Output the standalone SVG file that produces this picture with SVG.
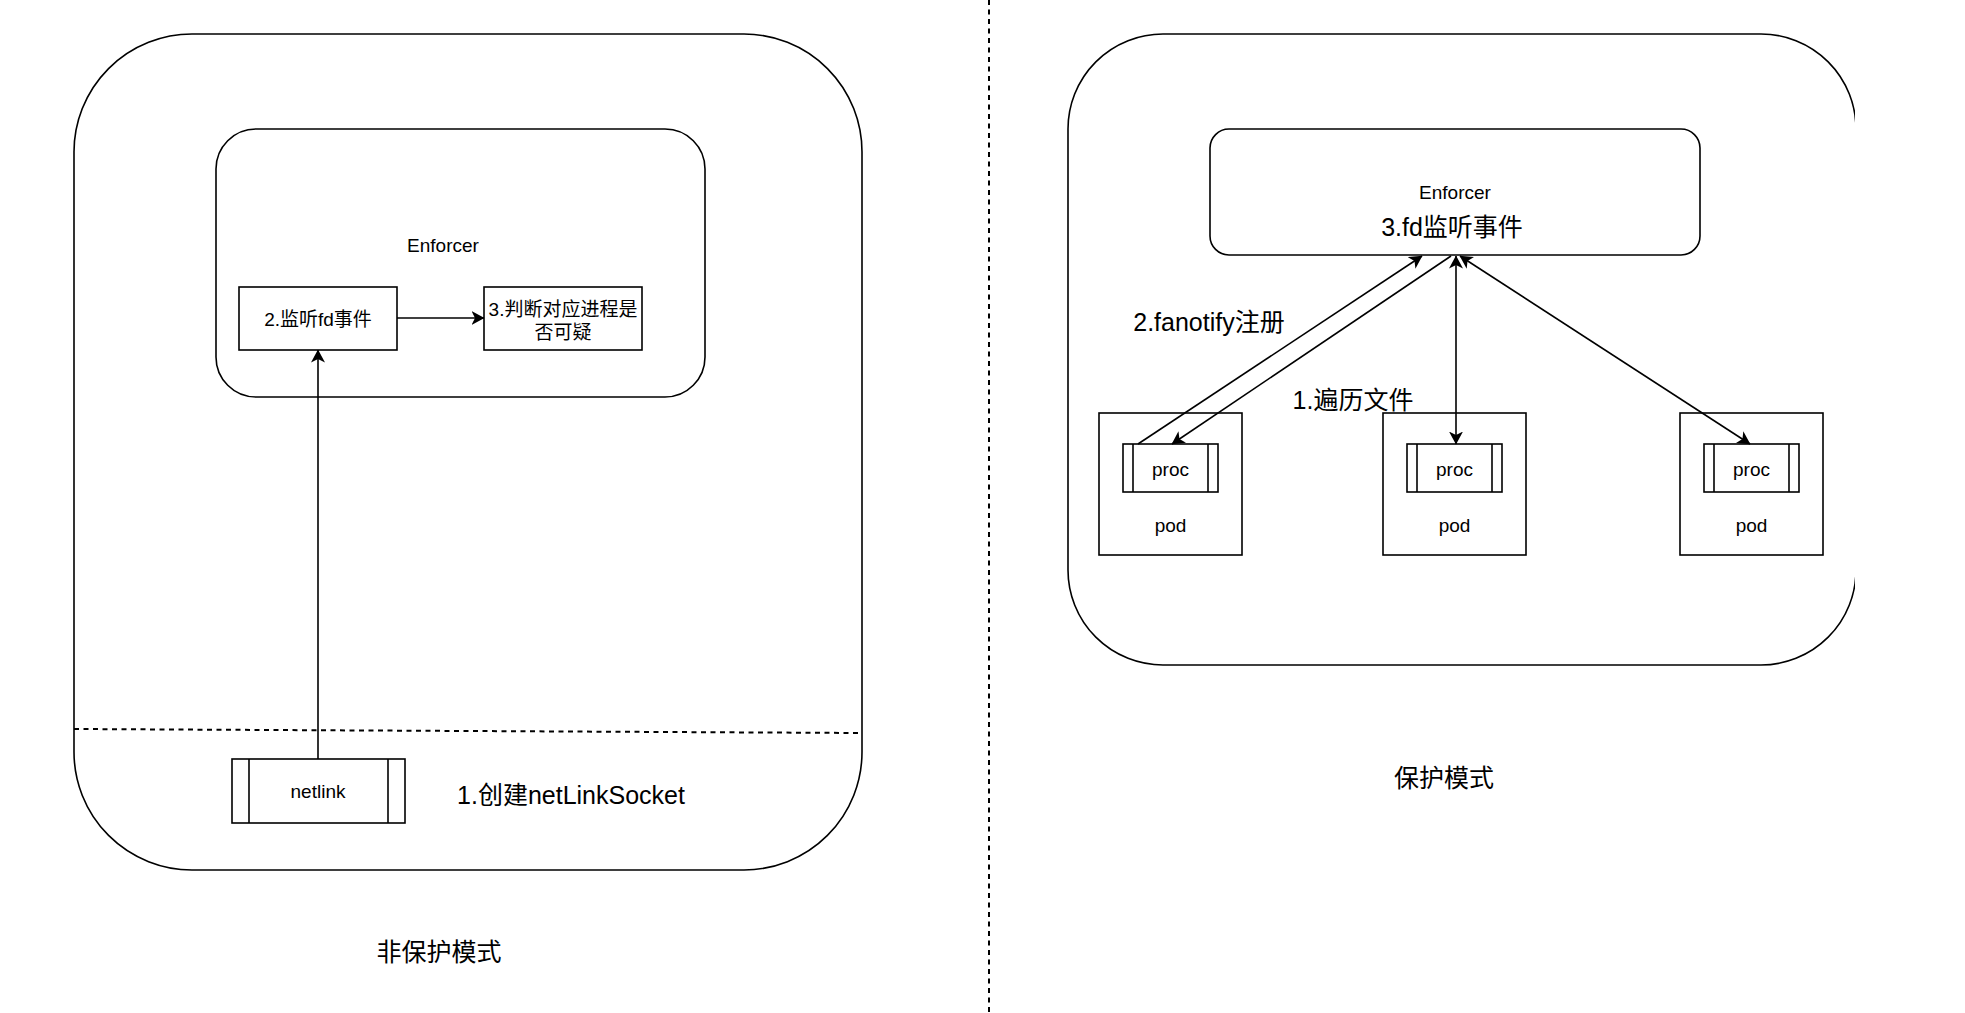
<svg xmlns="http://www.w3.org/2000/svg" width="1965" height="1013" viewBox="0 0 1965 1013">
<defs>
<marker id="arr" viewBox="0 0 13 14" refX="12.5" refY="7" markerWidth="13" markerHeight="14" markerUnits="userSpaceOnUse" orient="auto-start-reverse"><path d="M0,0 L13,7 L0,14 L3.5,7 z" fill="#000"/></marker>
<clipPath id="clipR"><rect x="0" y="0" width="1855" height="1013"/></clipPath>
</defs>
<style>
.box{fill:#fff;stroke:#000;stroke-width:1.6}
.line{fill:none;stroke:#000;stroke-width:1.6}
.dash{fill:none;stroke:#000;stroke-width:2;stroke-dasharray:5 4.5}
text{font-family:"Liberation Sans","Noto Sans CJK SC",sans-serif;fill:#000;text-anchor:middle;dominant-baseline:central}
.s{font-size:19px}
.l{font-size:25px}
</style>
<rect width="1965" height="1013" fill="#fff"/>

<g id="left-panel">
<rect class="box" x="74" y="34" width="788" height="836" rx="118" ry="118"/>
</g>
<g id="enforcer-left">
<rect class="box" x="216" y="129" width="489" height="268" rx="40" ry="40"/>
<text class="s" x="443" y="245">Enforcer</text>
</g>
<g id="listen-fd">
<rect class="box" x="239" y="287" width="158" height="63"/>
<text class="s" x="318" y="319">2.监听fd事件</text>
</g>
<g id="judge-proc">
<rect class="box" x="484" y="287" width="158" height="63"/>
<text class="s" x="563" y="309">3.判断对应进程是</text>
<text class="s" x="563" y="332">否可疑</text>
</g>
<g id="netlink">
<rect class="box" x="232" y="759" width="173" height="64"/>
<line class="line" x1="249" y1="759" x2="249" y2="823"/>
<line class="line" x1="388" y1="759" x2="388" y2="823"/>
<text class="s" x="318" y="791">netlink</text>
</g>
<g id="labels-left">
<text class="l" x="571" y="795">1.创建netLinkSocket</text>
<text class="l" x="439" y="952">非保护模式</text>
</g>

<g id="right-panel" clip-path="url(#clipR)">
<rect class="box" x="1068" y="34" width="788" height="631" rx="95" ry="95"/>
</g>
<g id="enforcer-right">
<rect class="box" x="1210" y="129" width="490" height="126" rx="19" ry="19"/>
<text class="s" x="1455" y="192">Enforcer</text>
<text class="l" x="1452" y="227">3.fd监听事件</text>
</g>
<g id="pod1">
<rect class="box" x="1099" y="413" width="143" height="142"/>
<rect class="box" x="1123" y="444" width="95" height="48"/>
<line class="line" x1="1133" y1="444" x2="1133" y2="492"/>
<line class="line" x1="1208" y1="444" x2="1208" y2="492"/>
<text class="s" x="1170.5" y="469">proc</text>
<text class="s" x="1170.5" y="525">pod</text>
</g>
<g id="pod2">
<rect class="box" x="1383" y="413" width="143" height="142"/>
<rect class="box" x="1407" y="444" width="95" height="48"/>
<line class="line" x1="1417" y1="444" x2="1417" y2="492"/>
<line class="line" x1="1492" y1="444" x2="1492" y2="492"/>
<text class="s" x="1454.5" y="469">proc</text>
<text class="s" x="1454.5" y="525">pod</text>
</g>
<g id="pod3">
<rect class="box" x="1680" y="413" width="143" height="142"/>
<rect class="box" x="1704" y="444" width="95" height="48"/>
<line class="line" x1="1714" y1="444" x2="1714" y2="492"/>
<line class="line" x1="1789" y1="444" x2="1789" y2="492"/>
<text class="s" x="1751.5" y="469">proc</text>
<text class="s" x="1751.5" y="525">pod</text>
</g>
<g id="labels-right">
<text class="l" x="1209" y="322">2.fanotify注册</text>
<text class="l" x="1353" y="400">1.遍历文件</text>
<text class="l" x="1444" y="778">保护模式</text>
</g>

<g id="connectors">
<line class="dash" x1="989" y1="0" x2="989" y2="1013"/>
<line class="dash" x1="74" y1="729" x2="862" y2="733"/>
<line class="line" x1="397" y1="318" x2="484" y2="318" marker-end="url(#arr)"/>
<line class="line" x1="318" y1="759" x2="318" y2="350" marker-end="url(#arr)"/>
<line class="line" x1="1138" y1="444" x2="1422" y2="256" marker-end="url(#arr)"/>
<line class="line" x1="1451" y1="256" x2="1172" y2="444" marker-end="url(#arr)"/>
<line class="line" x1="1456" y1="256" x2="1456" y2="444" marker-start="url(#arr)" marker-end="url(#arr)"/>
<line class="line" x1="1460" y1="256" x2="1750" y2="444" marker-start="url(#arr)" marker-end="url(#arr)"/>
</g>
</svg>
